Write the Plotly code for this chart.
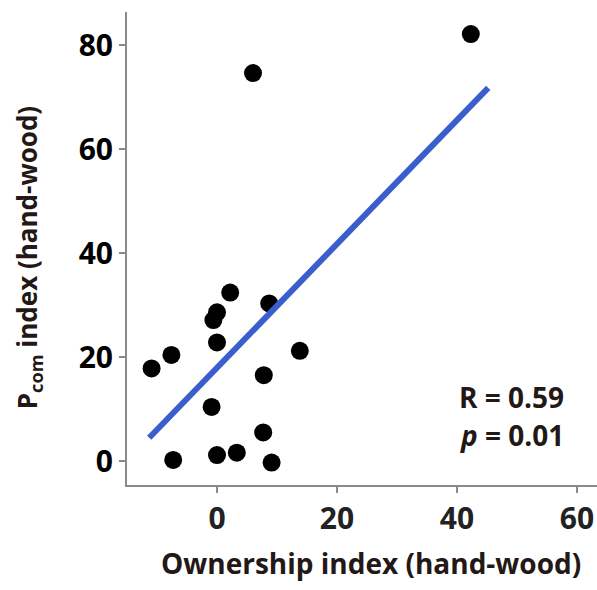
import numpy as np
import plotly.graph_objects as go

# Ownership index vs. P_com index (hand-wood), one point per participant group
ownership = [2.2, 8.7, 0.0, -0.6, 0.0, -7.6, -10.9, 13.8, 7.8, -0.9,
             7.7, -7.3, 0.0, 3.3, 9.1, 6.0, 42.3]
pcom = [32.4, 30.3, 28.6, 27.1, 22.8, 20.4, 17.8, 21.2, 16.5, 10.4,
        5.5, 0.2, 1.15, 1.6, -0.3, 74.6, 82.1]

# Least-squares fit drawn across this x span
fit_span = [-11.3, 45.2]

x_ticks = [0, 20, 40, 60]
y_ticks = [0, 20, 40, 60, 80]

stats_lines = ["R = 0.59", "<i>p</i> = 0.01"]

slope, intercept = np.polyfit(ownership, pcom, 1)
fit_x = np.array(fit_span)
fit_y = slope * fit_x + intercept

FONT = "Open Sans"
TEXT = "#231815"
AXIS = "#8a8a8a"

fig = go.Figure()
fig.add_trace(go.Scatter(
    x=ownership, y=pcom, mode="markers",
    marker=dict(size=18, color="black", line=dict(width=0)),
    showlegend=False, hoverinfo="x+y",
))
fig.add_trace(go.Scatter(
    x=fit_x, y=fit_y, mode="lines",
    line=dict(color="#3a5fcd", width=6),
    showlegend=False, hoverinfo="skip",
))

axis_common = dict(
    showgrid=False, zeroline=False,
    showline=True, linecolor=AXIS, linewidth=2,
    ticks="outside", ticklen=6, tickwidth=1.5, tickcolor=AXIS,
)

fig.update_layout(
    width=597, height=590,
    margin=dict(l=127, r=0, t=12, b=105),
    plot_bgcolor="white", paper_bgcolor="white",
    xaxis=dict(range=[-15, 63.33], tickvals=x_ticks, ticklabelstandoff=0,
               tickfont=dict(family=FONT, size=30, color="#222222", weight="bold"),
               **axis_common),
    yaxis=dict(range=[-4.615, 86.35], tickvals=y_ticks, ticklabelstandoff=0,
               tickfont=dict(family=FONT, size=30, color="black", weight="bold"),
               **axis_common),
    annotations=[
        dict(text="Ownership index (hand-wood)", xref="paper", yref="paper",
             x=0.52, y=-0.165, xanchor="center", yanchor="middle", showarrow=False,
             font=dict(family=FONT, size=28, color=TEXT, weight="bold")),
        dict(text="P<sub>com</sub> index (hand-wood)", xref="paper", yref="paper",
             x=-0.21, y=0.48, xanchor="center", yanchor="middle", textangle=-90,
             showarrow=False,
             font=dict(family=FONT, size=26, color=TEXT, weight="bold")),
        dict(text=stats_lines[0], xref="paper", yref="paper",
             x=0.935, y=0.186, xanchor="right", yanchor="middle", showarrow=False,
             font=dict(family=FONT, size=28, color=TEXT, weight="bold")),
        dict(text=stats_lines[1], xref="paper", yref="paper",
             x=0.935, y=0.106, xanchor="right", yanchor="middle", showarrow=False,
             font=dict(family=FONT, size=28, color=TEXT, weight="bold")),
    ],
)

fig.write_html("out.html")
